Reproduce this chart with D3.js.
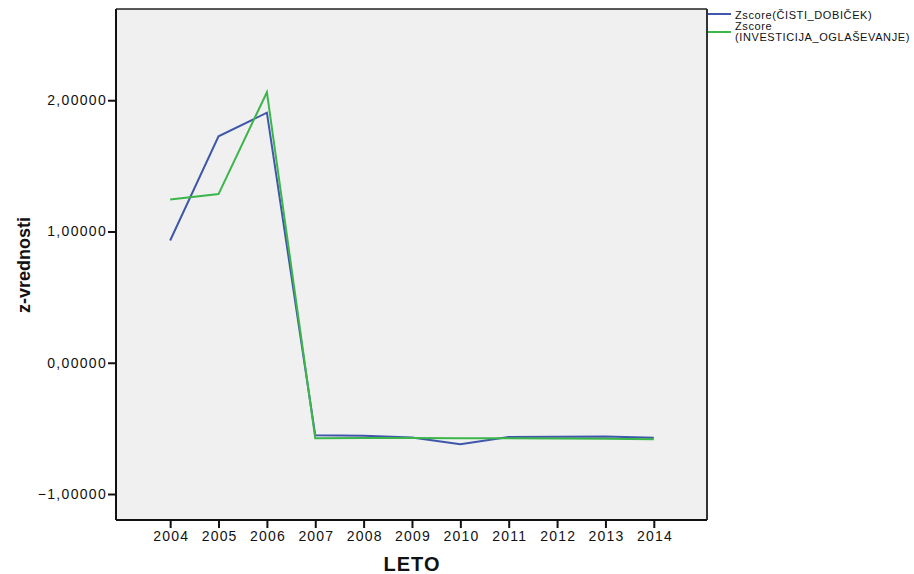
<!DOCTYPE html>
<html><head><meta charset="utf-8">
<script src="https://cdn.jsdelivr.net/npm/d3@7"></script>
<style>body{margin:0;background:#fff}text{font-family:Arial,"Liberation Sans",sans-serif}</style>
</head><body>
<svg id="c" width="914" height="574"></svg>
<script>
const years = [2004,2005,2006,2007,2008,2009,2010,2011,2012,2013,2014];
const ciscDobicek = [0.931,1.725,1.905,-0.553,-0.556,-0.570,-0.621,-0.565,-0.563,-0.562,-0.571];
const investicija = [1.244,1.285,2.061,-0.575,-0.574,-0.574,-0.575,-0.575,-0.577,-0.579,-0.582];
const yTicks = [-1,0,1,2];
const seriesNames = ["Zscore(ČISTI_DOBIČEK)", ["Zscore","(INVESTICIJA_OGLAŠEVANJE)"]];
const colors = ["#3f57aa","#3cb64a"];

const svg = d3.select("#c");
const L=116,R=707,T=9,B=520;
const x = d3.scaleLinear().domain([2002.88,2015.1]).range([L,R]);
const y = d3.scaleLinear().domain([-1.198,2.695]).range([B,T]);
const fmt = d => d3.format(".5f")(d).replace(".",",");

svg.append("rect").attr("x",L).attr("y",T).attr("width",R-L).attr("height",B-T).attr("fill","#f0f0f0");

const line = d3.line().x((d,i)=>x(years[i])).y(d=>y(d));
[ciscDobicek,investicija].forEach((s,k)=>{
  svg.append("path").datum(s).attr("d",line).attr("fill","none").attr("stroke",colors[k]).attr("stroke-width",2);
});

// frame
svg.append("line").attr("x1",L).attr("x2",R).attr("y1",T).attr("y2",T).attr("stroke","#222").attr("stroke-width",1.5);
svg.append("line").attr("x1",R).attr("x2",R).attr("y1",T).attr("y2",B).attr("stroke","#333").attr("stroke-width",2);

const yAxis = svg.append("g").attr("transform",`translate(${L},0)`)
  .call(d3.axisLeft(y).tickValues(yTicks).tickFormat(fmt).tickSize(8).tickPadding(1));
yAxis.select(".domain").attr("stroke","#111").attr("stroke-width",2).attr("d",`M0,${T}V${B}`);
yAxis.selectAll(".tick line").attr("stroke","#111").attr("stroke-width",2);
yAxis.selectAll("text").attr("font-size",14).attr("letter-spacing","1.3px").attr("fill","#111").attr("font-family","Arial, Liberation Sans, sans-serif");

const xAxis = svg.append("g").attr("transform",`translate(0,${B})`)
  .call(d3.axisBottom(x).tickValues(years).tickFormat(d3.format("d")).tickSize(8).tickPadding(3));
xAxis.select(".domain").attr("stroke","#111").attr("stroke-width",2).attr("d",`M${L},0H${R}`);
xAxis.selectAll(".tick line").attr("stroke","#111").attr("stroke-width",2);
xAxis.selectAll("text").attr("font-size",14).attr("letter-spacing","1.2px").attr("dx","0.6").attr("fill","#111").attr("font-family","Arial, Liberation Sans, sans-serif");

svg.append("text").attr("x",412).attr("y",571).attr("text-anchor","middle")
  .attr("font-size",20).attr("letter-spacing","1px").attr("font-weight","bold").attr("fill","#111").text("LETO");
svg.append("text").attr("transform","translate(30,265) rotate(-90)").attr("text-anchor","middle")
  .attr("font-size",18).attr("font-weight","bold").attr("fill","#111").text("z-vrednosti");

// legend
const lg = svg.append("g");
lg.append("line").attr("x1",708).attr("x2",731).attr("y1",14).attr("y2",14).attr("stroke",colors[0]).attr("stroke-width",2);
lg.append("text").attr("x",735).attr("y",18.5).attr("font-size",11).attr("letter-spacing","0.6px").attr("fill","#111").text(seriesNames[0]);
lg.append("line").attr("x1",708).attr("x2",731).attr("y1",32).attr("y2",32).attr("stroke",colors[1]).attr("stroke-width",2);
lg.append("text").attr("x",735).attr("y",30).attr("font-size",11).attr("letter-spacing","0.6px").attr("fill","#111").text(seriesNames[1][0]);
lg.append("text").attr("x",735).attr("y",40.5).attr("font-size",11).attr("letter-spacing","0.6px").attr("fill","#111").text(seriesNames[1][1]);
</script>
</body></html>
